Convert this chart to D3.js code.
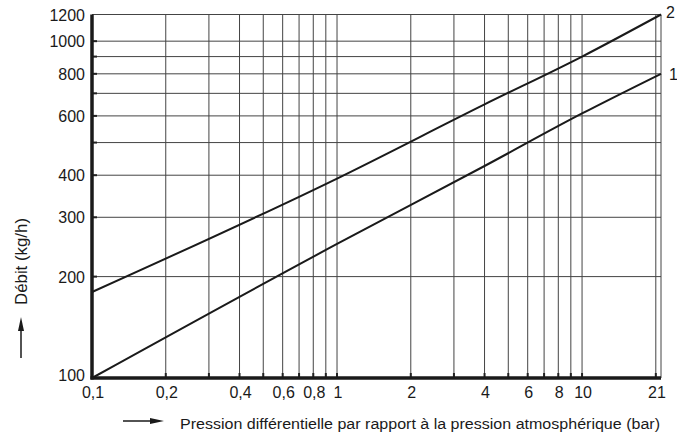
<!DOCTYPE html>
<html>
<head>
<meta charset="utf-8">
<script src="https://cdn.jsdelivr.net/npm/d3@7"></script>
<style>
  html, body { margin: 0; padding: 0; background: #fff; }
  svg { display: block; font-family: "Liberation Sans", Arial, sans-serif; }
</style>
</head>
<body>
<svg id="chart" width="677" height="434"></svg>
<script>
// ---- data ----
const xDomain = [0.1, 21];
const yDomain = [100, 1200];
const xGrid = [0.2, 0.3, 0.4, 0.5, 0.6, 0.7, 0.8, 0.9, 1, 2, 3, 4, 5, 6, 7, 8, 9, 10, 20, 21];
const yGrid = [200, 300, 400, 500, 600, 700, 800, 900, 1000, 1200];
const xTickValues = [0.1, 0.2, 0.4, 0.6, 0.8, 1, 2, 4, 6, 8, 10, 21];
const xTickLabels = ["0,1", "0,2", "0,4", "0,6", "0,8", "1", "2", "4", "6", "8", "10", "21"];
const yTickValues = [100, 200, 300, 400, 600, 800, 1000, 1200];
const yTickLabels = ["100", "200", "300", "400", "600", "800", "1000", "1200"];
const seriesNames = ["1", "2"];
const series1X = [0.1, 1, 4, 10, 21];
const series1Y = [100, 250, 426, 610, 800];
const series2X = [0.1, 1, 4, 10, 21];
const series2Y = [180, 391, 649, 900, 1200];
const yTitle = "Débit (kg/h)";
const xTitle = "Pression différentielle par rapport à la pression atmosphérique (bar)";

// ---- drawing ----
(function () {
const svg = d3.select("#chart");
const mLeft = 92, mRight = 661, mTop = 14.5, mBottom = 378;
const x = d3.scaleLog().domain(xDomain).range([mLeft, mRight]);
const y = d3.scaleLog().domain(yDomain).range([mBottom, mTop]);

const grid = svg.append("g");
grid.selectAll("line.vx").data(xGrid).join("line")
  .attr("x1", d => x(d)).attr("x2", d => x(d))
  .attr("y1", y(yDomain[0])).attr("y2", y(yDomain[1]))
  .attr("stroke", "#444").attr("stroke-width", 1);
grid.selectAll("line.hy").data(yGrid).join("line")
  .attr("x1", x(xDomain[0])).attr("x2", x(xDomain[1]))
  .attr("y1", d => y(d)).attr("y2", d => y(d))
  .attr("stroke", "#444").attr("stroke-width", 1);

// small inner ticks
svg.append("g").selectAll("line").data(xGrid.filter(d => d < 21)).join("line")
  .attr("x1", d => x(d)).attr("x2", d => x(d))
  .attr("y1", y(yDomain[0])).attr("y2", y(yDomain[0]) - 5)
  .attr("stroke", "#222").attr("stroke-width", 2);
svg.append("g").selectAll("line").data(yGrid.filter(d => d < 1200)).join("line")
  .attr("x1", x(xDomain[0])).attr("x2", x(xDomain[0]) + 5)
  .attr("y1", d => y(d)).attr("y2", d => y(d))
  .attr("stroke", "#222").attr("stroke-width", 2);

// axes lines
svg.append("line")
  .attr("x1", x(xDomain[0])).attr("x2", x(xDomain[0]))
  .attr("y1", y(yDomain[1])).attr("y2", y(yDomain[0]) + 1.5)
  .attr("stroke", "#1a1a1a").attr("stroke-width", 3.5);
svg.append("line")
  .attr("x1", x(xDomain[0]) - 1.5).attr("x2", x(xDomain[1]))
  .attr("y1", y(yDomain[0])).attr("y2", y(yDomain[0]))
  .attr("stroke", "#1a1a1a").attr("stroke-width", 3.5);

// series
const line = d3.line().x(d => x(d[0])).y(d => y(d[1])).curve(d3.curveMonotoneX);
const s1 = d3.zip(series1X, series1Y);
const s2 = d3.zip(series2X, series2Y);
svg.append("g").selectAll("path").data([s1, s2]).join("path")
  .attr("d", line).attr("fill", "none")
  .attr("stroke", "#1a1a1a").attr("stroke-width", 2);

// series labels
svg.append("text").attr("x", x(21) + 8).attr("y", y(800) + 6)
  .attr("font-size", 16).attr("fill", "#1a1a1a").text(seriesNames[0]);
svg.append("text").attr("x", x(21) + 5).attr("y", y(1200) + 3)
  .attr("font-size", 16).attr("fill", "#1a1a1a").text(seriesNames[1]);

// tick labels
svg.append("g").selectAll("text").data(yTickValues).join("text")
  .attr("x", x(xDomain[0]) - 7)
  .attr("y", d => y(d) + (d === 100 ? 3 : 6))
  .attr("text-anchor", "end").attr("font-size", 16).attr("fill", "#1a1a1a")
  .text((d, i) => yTickLabels[i]);
svg.append("g").selectAll("text").data(xTickValues).join("text")
  .attr("x", d => x(d) + (d === 21 ? -4 : 1))
  .attr("y", y(yDomain[0]) + 20)
  .attr("text-anchor", "middle").attr("font-size", 16).attr("fill", "#1a1a1a")
  .text((d, i) => xTickLabels[i]);

// titles
svg.append("text")
  .attr("transform", "translate(27,305) rotate(-90)")
  .attr("text-anchor", "start").attr("font-size", 16).attr("fill", "#1a1a1a")
  .attr("textLength", 87).attr("lengthAdjust", "spacingAndGlyphs")
  .text(yTitle);
svg.append("text")
  .attr("x", 180).attr("y", 429)
  .attr("font-size", 15.5).attr("fill", "#1a1a1a")
  .attr("textLength", 480).attr("lengthAdjust", "spacingAndGlyphs")
  .text(xTitle);

// arrows
svg.append("line").attr("x1", 21).attr("x2", 21).attr("y1", 358).attr("y2", 330)
  .attr("stroke", "#1a1a1a").attr("stroke-width", 1.5);
svg.append("path").attr("d", "M21,317 L18,331 L24,331 Z").attr("fill", "#1a1a1a");
svg.append("line").attr("x1", 123).attr("x2", 152).attr("y1", 421).attr("y2", 421)
  .attr("stroke", "#1a1a1a").attr("stroke-width", 1.5);
svg.append("path").attr("d", "M164,421 L150,418 L150,424 Z").attr("fill", "#1a1a1a");
})();
</script>
</body>
</html>
